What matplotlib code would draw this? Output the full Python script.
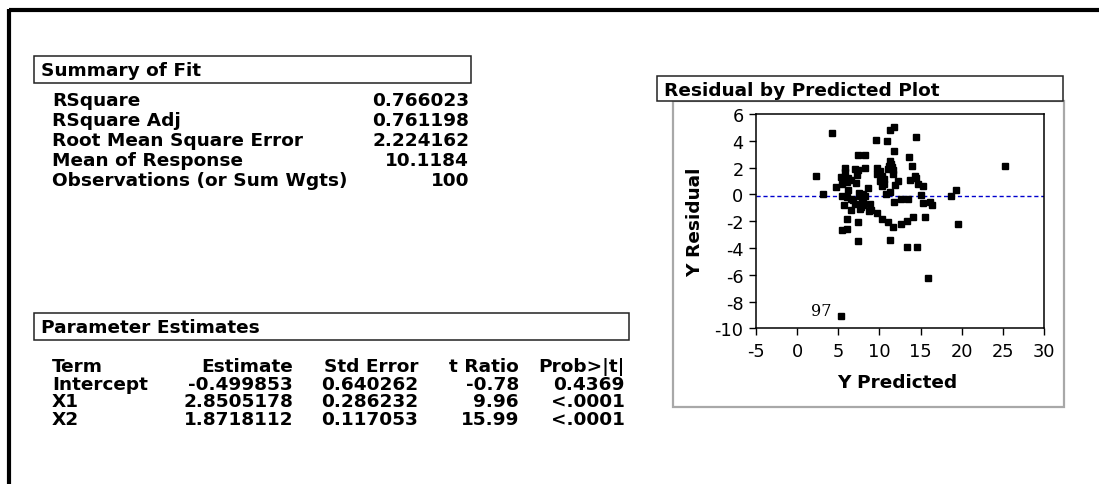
import matplotlib
matplotlib.use("Agg")
import matplotlib.pyplot as plt
from matplotlib.patches import Rectangle

plt.rcParams["axes.unicode_minus"] = False

# ---------------- data ----------------
fit_labels = ["RSquare", "RSquare Adj", "Root Mean Square Error",
              "Mean of Response", "Observations (or Sum Wgts)"]
fit_values = ["0.766023", "0.761198", "2.224162", "10.1184", "100"]

pe_header = ["Term", "Estimate", "Std Error", "t Ratio", "Prob>|t|"]
pe_terms = ["Intercept", "X1", "X2"]
pe_estimate = ["-0.499853", "2.8505178", "1.8718112"]
pe_stderr = ["0.640262", "0.286232", "0.117053"]
pe_tratio = ["-0.78", "9.96", "15.99"]
pe_prob = ["0.4369", "<.0001", "<.0001"]

y_predicted = [2.3, 3.2, 4.25, 4.7, 5.3, 5.3, 5.4, 5.5, 5.65, 5.85,
               5.8, 6.0, 5.4, 6.0, 6.15, 6.2, 6.6, 6.8, 7.0, 6.55,
               7.0, 7.35, 7.3, 7.1, 7.45, 8.25, 8.25, 8.65, 7.5, 7.65,
               8.05, 7.8, 8.05, 8.3, 8.8, 9.0, 8.75, 7.65, 7.4, 7.4,
               6.0, 6.0, 7.85, 8.0, 9.6, 10.9, 11.3, 11.75, 11.8, 9.75,
               10.1, 9.7, 10.3, 10.5, 10.1, 10.5, 10.3, 11.3, 11.15, 11.5,
               11.0, 11.7, 11.65, 12.3, 11.9, 10.75, 11.3, 11.8, 12.6, 13.5,
               9.7, 10.3, 11.05, 11.7, 12.6, 13.35, 14.1, 11.25, 13.4, 14.6,
               13.55, 13.9, 14.4, 13.7, 14.3, 14.5, 14.7, 15.3, 15.0, 15.3,
               15.5, 15.85, 16.1, 16.4, 18.65, 19.3, 19.5, 25.3, 11.4, 6.5]
y_residual = [1.4, 0.05, 4.6, 0.55, -9.1, 1.3, 0.8, -0.1, -0.8, 2.0,
              1.7, -1.85, -2.65, -2.55, 0.35, 1.25, 1.1, -0.45, -0.7, -1.2,
              1.9, 1.8, 1.45, 0.85, 2.95, 2.95, 2.0, 0.45, 0.1, -0.15,
              -0.45, -0.95, -0.8, -0.1, -0.7, -1.15, -1.25, -1.1, -2.05, -3.45,
              0.9, -0.2, -0.6, 0.05, 4.05, 4.0, 4.8, 5.0, 3.25, 1.95,
              1.75, 1.5, 1.4, 1.15, 1.0, 0.8, 0.6, 2.5, 2.15, 2.05,
              1.9, 1.8, 1.55, 1.0, 0.7, 0.05, 0.15, -0.6, -0.35, -0.35,
              -1.4, -1.85, -2.1, -2.45, -2.2, -2.0, -1.7, -3.4, -3.95, -3.95,
              2.8, 2.1, 4.25, 1.1, 1.4, 1.2, 0.8, 0.65, -0.05, -0.65,
              -1.7, -6.25, -0.55, -0.8, -0.15, 0.35, -2.25, 2.1, 2.3, -0.35]
label_index = 4
label_text = "97"
ref_line = -0.1

x_ticks = [-5, 0, 5, 10, 15, 20, 25, 30]
y_ticks = [-10, -8, -6, -4, -2, 0, 2, 4, 6]

# ---------------- figure ----------------
W, H = 1099, 485
fig = plt.figure(figsize=(W / 100, H / 100), dpi=100)
fig.patch.set_facecolor("white")

ov = fig.add_axes([0, 0, 1, 1])
ov.set_xlim(0, W)
ov.set_ylim(H, 0)
ov.axis("off")

SANS = ["DejaVu Sans"]
FS = 13.3

# outer border (top and left)
ov.plot([9, W], [11, 11], color="black", lw=3.0, solid_capstyle="butt")
ov.plot([9, 9], [9.5, H], color="black", lw=3.0, solid_capstyle="butt")

def box(x0, y0, x1, y1, title):
    ov.add_patch(Rectangle((x0, y0), x1 - x0, y1 - y0, fill=True,
                           facecolor="white", edgecolor="#222222", lw=1.1))
    ov.text(x0 + 7, (y0 + y1) / 2 + 1, title, fontsize=FS, fontweight="bold",
            family=SANS, ha="left", va="center")

# Summary of Fit
box(34, 57, 471, 84, "Summary of Fit")
row_y = [101, 121, 141, 161, 181]
for lab, val, yy in zip(fit_labels, fit_values, row_y):
    ov.text(52, yy, lab, fontsize=FS, fontweight="bold", family=SANS,
            ha="left", va="center")
    ov.text(469, yy, val, fontsize=FS, fontweight="bold", family=SANS,
            ha="right", va="center")

# Parameter Estimates
box(34, 314, 629, 341, "Parameter Estimates")
col_x = [52, 293, 418, 519, 625]
col_ha = ["left", "right", "right", "right", "right"]
tab_y = [367, 385, 402.5, 420]
for cx, ha, txt in zip(col_x, col_ha, pe_header):
    ov.text(cx, tab_y[0], txt, fontsize=FS, fontweight="bold", family=SANS,
            ha=ha, va="center")
cols = [pe_terms, pe_estimate, pe_stderr, pe_tratio, pe_prob]
for c, (cx, ha) in enumerate(zip(col_x, col_ha)):
    for r in range(3):
        ov.text(cx, tab_y[r + 1], cols[c][r], fontsize=FS, fontweight="bold",
                family=SANS, ha=ha, va="center")

# Residual by Predicted Plot frame
ov.add_patch(Rectangle((673, 102), 1064 - 673, 408 - 102, fill=False,
                       edgecolor="#a8a8a8", lw=1.6))
box(657, 77, 1063, 102, "Residual by Predicted Plot")

# scatter axes
ax_l, ax_r, ax_t, ax_b = 756, 1044, 115, 329.3
ax = fig.add_axes([ax_l / W, 1 - ax_b / H, (ax_r - ax_l) / W, (ax_b - ax_t) / H])
ax.set_xlim(-5, 30)
ax.set_ylim(-10, 6)
ax.set_xticks(x_ticks)
ax.set_yticks(y_ticks)
ax.tick_params(direction="out", length=5, width=1, pad=4, labelsize=12.8,
               colors="black")
ax.tick_params(axis="x", pad=5)
for lab in ax.get_xticklabels() + ax.get_yticklabels():
    lab.set_family(SANS)
for s in ax.spines.values():
    s.set_color("black")
    s.set_linewidth(1.1)

ax.axhline(ref_line, color="#0000cc", lw=1.0, ls=(0, (3, 2)), zorder=1)
ax.plot(y_predicted, y_residual, ls="none", marker="s", ms=4.3,
        color="black", zorder=3)
ax.annotate(label_text, (y_predicted[label_index], y_residual[label_index]),
            xytext=(-7, 4), textcoords="offset points", ha="right",
            va="center", fontsize=11.5, family=["DejaVu Serif"])

ax.set_xlabel("Y Predicted", fontsize=FS, fontweight="bold", family=SANS)
ax.set_ylabel("Y Residual", fontsize=FS, fontweight="bold", family=SANS)
ax.xaxis.set_label_coords((897 - ax_l) / (ax_r - ax_l), -(383 - ax_b) / (ax_b - ax_t))
ax.yaxis.set_label_coords(-(756 - 695) / (ax_r - ax_l), 0.5)
ax.xaxis.label.set_va("center")
ax.yaxis.label.set_va("center")

fig.savefig("out.png", dpi=100, facecolor="white")
